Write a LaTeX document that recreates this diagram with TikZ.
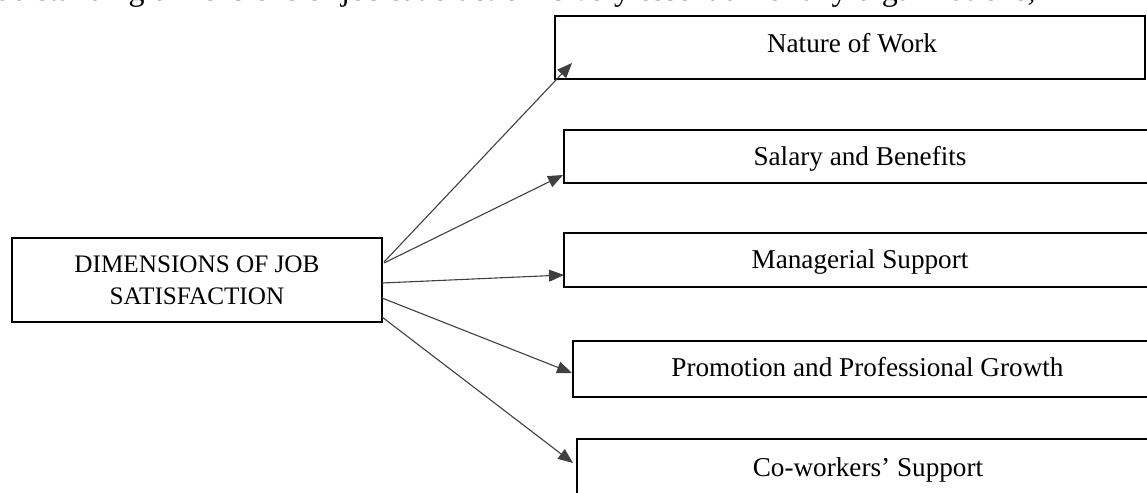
\documentclass[tikz,border=0pt]{standalone}
\usepackage{fontspec}
\setmainfont{Liberation Serif}
\usetikzlibrary{arrows.meta}
\tikzset{
  boxshape/.style={draw=black, line width=1pt, inner sep=0pt, outer sep=0pt, rectangle},
  lbl/.style={anchor=base, inner sep=0pt, font=\fontsize{13.6}{16}\selectfont},
  arr/.style={draw=black!75, line width=0.55pt, -{Triangle[length=7.5pt,width=6pt]}}
}
\begin{document}
\begin{tikzpicture}[x=0.5pt,y=-0.5pt]
\useasboundingbox (0,0) rectangle (1147,493);
\clip (0,0) rectangle (1147,493);
% partly hidden running text above the figure
\node[anchor=base west, inner sep=0pt, font=\fontsize{16}{19}\selectfont] (toptext) at (-37,0.5)
  {understanding dimensions of job satisfaction is very essential for any organizations,};
% central box
\node[boxshape, minimum width=185pt, minimum height=42pt, align=center,
      font=\fontsize{12.6}{16}\selectfont] (L) at (197,280)
  {DIMENSIONS OF JOB\\SATISFACTION};
% right boxes
\node[boxshape, minimum width=295pt, minimum height=31.5pt] (b1) at (850,47.5) {};
\node[boxshape, minimum width=303pt, minimum height=26.5pt] (b2) at (867,156.5) {};
\node[boxshape, minimum width=303pt, minimum height=27pt] (b3) at (867,260) {};
\node[boxshape, minimum width=298.5pt, minimum height=28pt] (b4) at (871.5,369) {};
\node[boxshape, minimum width=296.5pt, minimum height=30.5pt] (b5) at (873.5,469.5) {};
% labels
\node[lbl] (t1) at (852,52) {Nature of Work};
\node[lbl] (t2) at (860,165) {Salary and Benefits};
\node[lbl] (t3) at (860,268) {Managerial Support};
\node[lbl] (t4) at (867.5,376) {Promotion and Professional Growth};
\node[lbl] (t5) at (868,476) {Co-workers’ Support};
% connectors
\draw[arr] ([xshift=1pt,yshift=9pt]L.east) -- ([xshift=8.5pt,yshift=8pt]b1.south west);
\draw[arr] ([xshift=1pt,yshift=8.5pt]L.east) -- ([xshift=-0.5pt,yshift=4pt]b2.south west);
\draw[arr] ([yshift=-1.5pt]L.east) -- ([yshift=6pt]b3.south west);
\draw[arr] ([yshift=-9pt]L.east) -- ([xshift=-0.5pt,yshift=-2pt]b4.west);
\draw[arr] ([yshift=-18.5pt]L.east) -- ([xshift=-2pt,yshift=-12pt]b5.north west);
\end{tikzpicture}
\end{document}
